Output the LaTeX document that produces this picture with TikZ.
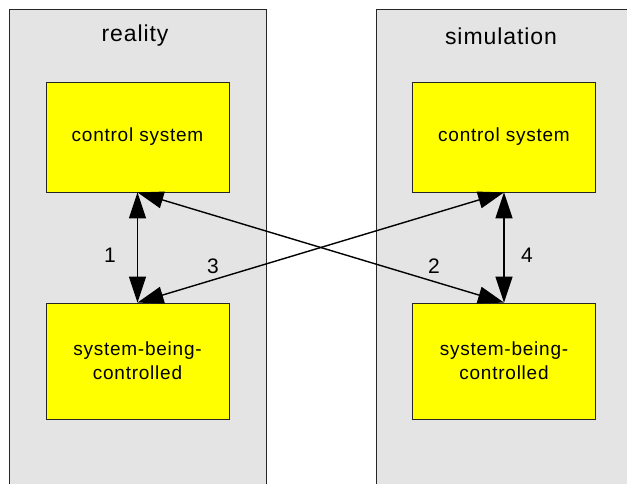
\documentclass[tikz,border=0pt]{standalone}
\usepackage{fontspec}
\setmainfont[LetterSpace=4]{Liberation Sans}
\usetikzlibrary{arrows.meta,positioning}
\definecolor{boxyellow}{RGB}{255,255,0}
\definecolor{panelgray}{RGB}{228,228,228}

\begin{document}
\begin{tikzpicture}[x=1pt,y=-1pt,
  panel/.style={draw=black!85,line width=1.3pt,fill=panelgray,anchor=north west,inner sep=0pt},
  unit/.style={draw=black!85,line width=0.8pt,fill=boxyellow,minimum width=183pt,
               align=center,font=\fontsize{19}{24}\selectfont,inner sep=0pt},
  title/.style={font=\fontsize{23}{26}\selectfont},
  num/.style={font=\fontsize{21}{24}\selectfont},
  link/.style={line width=1.4pt,{Triangle[length=26pt,width=17pt]}-{Triangle[length=26pt,width=17pt]}}]
\useasboundingbox (0,0) rectangle (627,484);

\node[panel,minimum width=257pt,minimum height=490pt] (real) at (9,9) {};
\node[panel,minimum width=270pt,minimum height=490pt] (sim) at (376,9) {};
\node[title] (realt) at (135,36) {reality};
\node[title] (simt) at (501,36) {simulation};

\node[unit,minimum height=110pt] (ctrlA) at (137.5,137) {control system};
\node[unit,minimum height=116pt] (plantA) at (137.5,361) {system-being-\\controlled};
\node[unit,minimum height=110pt] (ctrlB) at (504,137) {control system};
\node[unit,minimum height=116pt] (plantB) at (504,361) {system-being-\\controlled};

\draw[link] (ctrlA.south) -- (plantA.north);
\draw[link] (ctrlB.south) -- (plantB.north);
\draw[link] (ctrlA.south) -- (plantB.north);
\draw[link] (plantA.north) -- (ctrlB.south);

\node[num] (n1) at (110,255) {1};
\node[num] (n3) at (213,266) {3};
\node[num] (n2) at (434,266) {2};
\node[num] (n4) at (527,255) {4};
\end{tikzpicture}
\end{document}
